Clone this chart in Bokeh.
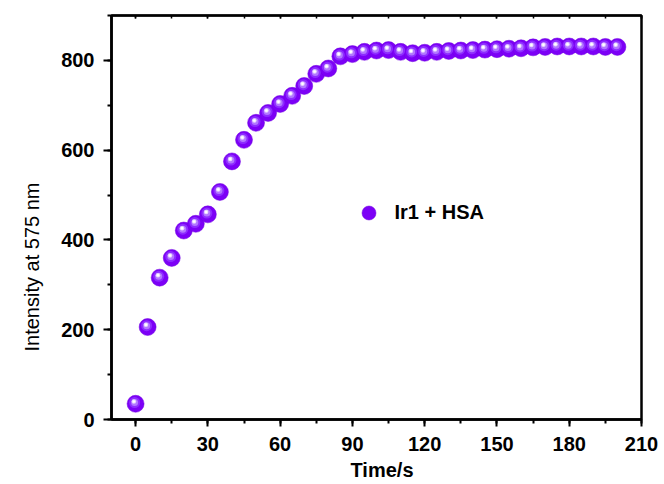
import math
from bokeh.plotting import figure
from bokeh.models import (ColumnDataSource, Range1d, LinearAxis, SingleIntervalTicker,
                          Legend, LegendItem, Title)
from bokeh.embed import file_html
from bokeh.resources import INLINE

# ---------------- data ----------------
times = [0, 5, 10, 15, 20, 25, 30, 35, 40, 45,
         50, 55, 60, 65, 70, 75, 80, 85, 90, 95,
         100, 105, 110, 115, 120, 125, 130, 135, 140, 145,
         150, 155, 160, 165, 170, 175, 180, 185, 190, 195, 200]
intensity = [35, 206, 316, 360, 421, 436, 457, 507, 575, 623,
             661, 683, 703, 721, 743, 770, 782, 809, 814, 819,
             822, 823, 819, 816, 817, 819, 821, 822, 823, 824,
             825, 826, 827, 829, 830, 831, 831, 831, 831, 830, 830]
x_tick_step = 30
y_tick_step = 200
series_label = "Ir1 + HSA"
x_title = "Time/s"
y_title = "Intensity at 575 nm"

# ---------------- layout ----------------
W, H = 664, 484
BL, BR, BT, BB = 111, 23, 15, 64
X0, X1 = -10, 210
Y0, Y1 = 0, 900
fw = W - BL - BR
fh = H - BT - BB
ux = (X1 - X0) / fw   # data units per pixel
uy = (Y1 - Y0) / fh

FONT = "Liberation Sans"

p = figure(width=W, height=H, x_range=Range1d(X0, X1), y_range=Range1d(Y0, Y1),
           output_backend="svg", toolbar_location=None,
           min_border_left=BL, min_border_right=BR, min_border_top=BT, min_border_bottom=BB)
p.xgrid.visible = False
p.ygrid.visible = False
p.outline_line_color = "black"
p.outline_line_width = 2.5
p.background_fill_color = "white"
p.border_fill_color = "white"

for ax, step in ((p.xaxis[0], x_tick_step), (p.yaxis[0], y_tick_step)):
    ax.ticker = SingleIntervalTicker(interval=step, num_minor_ticks=2)
    ax.axis_line_width = 2.5
    ax.axis_line_color = "black"
    ax.major_tick_line_width = 2
    ax.minor_tick_line_width = 2
    ax.major_tick_in = 0
    ax.minor_tick_in = 0
    ax.major_label_text_font = FONT
    ax.major_label_text_font_style = "bold"
    ax.major_label_text_font_size = "20px"
    ax.major_label_text_color = "black"

p.yaxis.major_tick_out = 8
p.yaxis.minor_tick_out = 4
p.yaxis.major_label_standoff = 9
p.xaxis.major_tick_out = 7
p.xaxis.minor_tick_out = 4
p.xaxis.major_label_standoff = 10

top = LinearAxis(ticker=SingleIntervalTicker(interval=x_tick_step, num_minor_ticks=2),
                 major_tick_in=3, major_tick_out=0, minor_tick_in=3, minor_tick_out=0,
                 major_tick_line_width=1.5, minor_tick_line_width=1.5,
                 axis_line_width=2, major_label_text_alpha=0,
                 major_label_text_font_size="1px", major_label_standoff=0)
p.add_layout(top, "above")

# ---------------- glossy sphere markers ----------------
src = ColumnDataSource(dict(x=times, y=intensity))
hl1 = ColumnDataSource(dict(x=[t - 1.0 * ux for t in times], y=[v + 1.3 * uy for v in intensity]))
hl2 = ColumnDataSource(dict(x=[t - 1.7 * ux for t in times], y=[v + 2.3 * uy for v in intensity]))

base = p.scatter("x", "y", source=src, size=17, fill_color="#7C00F6", line_color="#7000E0", line_width=0.5)
p.scatter("x", "y", source=hl1, size=11, fill_color="#8E2CFF", line_color=None)
p.scatter("x", "y", source=hl1, size=7, fill_color="#B278FF", line_color=None)
p.scatter("x", "y", source=hl2, size=4.5, fill_color="#E6D4FF", line_color=None)
p.scatter("x", "y", source=hl2, size=2.5, fill_color="#FFFFFF", line_color=None)

legend = Legend(items=[LegendItem(label=series_label, renderers=[base])],
                location=(257 - 17.5, 207 - 17.5), glyph_width=35, glyph_height=35,
                label_standoff=9, padding=0, margin=0, spacing=0,
                border_line_color=None, background_fill_alpha=0,
                label_text_font=FONT, label_text_font_style="bold",
                label_text_font_size="20px", label_text_color="black")
p.add_layout(legend)

p.add_layout(Title(text=y_title, align="left", offset=68, standoff=31,
                   text_font=FONT, text_font_style="normal", text_font_size="20px",
                   text_color="black"), "left")
p.add_layout(Title(text=x_title, align="left", offset=350 - BL, standoff=7,
                   text_font=FONT, text_font_style="bold", text_font_size="20px",
                   text_color="black"), "below")

open("out.html", "w").write(file_html(p, INLINE))
